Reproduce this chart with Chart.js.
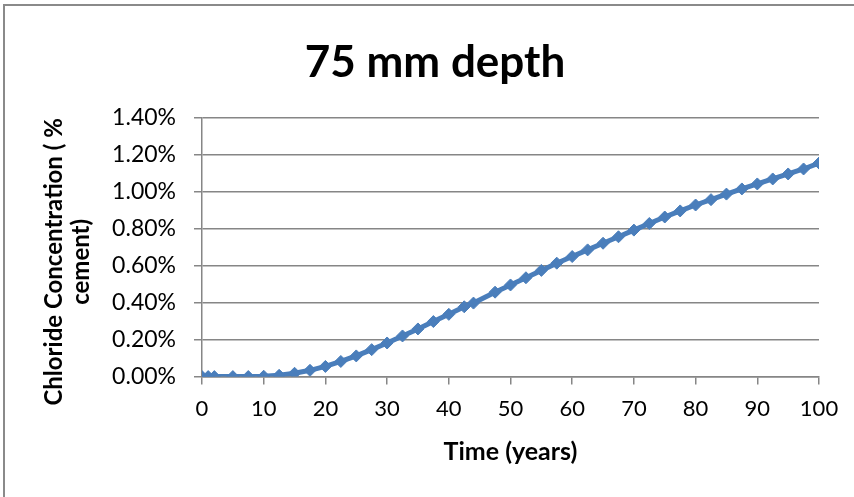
<!DOCTYPE html>
<html>
<head>
<meta charset="utf-8">
<title>75 mm depth</title>
<script src="https://cdn.jsdelivr.net/npm/chart.js@4"></script>
<style>
  html, body { margin: 0; padding: 0; overflow: hidden; background: #fff; }
  #wrap { position: relative; width: 854px; height: 497px; }
  #frame { position: absolute; left: 3px; top: 4px; width: 900px; height: 600px; border: 2px solid #8a8a8a; }
  #chart { position: absolute; left: 0; top: 0; }
</style>
</head>
<body>
<div id="wrap">
  <div id="frame"></div>
  <canvas id="chart" width="854" height="497"></canvas>
</div>
<script>
// time in years and chloride concentration in % of cement
const years = [0, 1, 2, 5, 7.5, 10, 12.5, 15, 17.5, 20, 22.5, 25, 27.5, 30, 32.5, 35, 37.5, 40,
  42.5, 44, 47.5, 50, 52.5, 55, 57.5, 60, 62.5, 65, 67.5, 70, 72.5, 75, 77.5, 80, 82.5, 85,
  87.5, 90, 92.5, 95, 97.5, 100];
const chloride = [0, 0, 0, 0, 0.0003, 0.002, 0.007, 0.018, 0.034, 0.055, 0.082, 0.112, 0.146,
  0.182, 0.220, 0.258, 0.298, 0.337, 0.378, 0.398, 0.457, 0.496, 0.535, 0.575, 0.614, 0.650,
  0.686, 0.722, 0.757, 0.793, 0.829, 0.864, 0.897, 0.929, 0.958, 0.988, 1.016, 1.043, 1.070,
  1.097, 1.124, 1.156];
const yTicks = [0, 0.2, 0.4, 0.6, 0.8, 1.0, 1.2, 1.4];
const xTicks = [0, 10, 20, 30, 40, 50, 60, 70, 80, 90, 100];

const points = years.map((t, i) => ({ x: t, y: chloride[i] }));
const gridGray = '#868686';
const blue = '#4a7ebb';

// chart title, centred on the chart frame rather than the plot area
const titlePlugin = {
  id: 'frameTitle',
  afterDraw(chart) {
    const ctx = chart.ctx;
    ctx.save();
    ctx.fillStyle = '#000';
    ctx.font = 'bold 44px Lato';
    ctx.textAlign = 'center';
    ctx.textBaseline = 'alphabetic';
    ctx.fillText('75 mm depth', 435, 77);
    ctx.restore();
  }
};

new Chart(document.getElementById('chart'), {
  type: 'scatter',
  data: {
    datasets: [{
      label: 'Chloride',
      data: points,
      showLine: true,
      borderColor: blue,
      backgroundColor: blue,
      borderWidth: 5,
      pointStyle: 'rectRot',
      pointRadius: 6,
      pointHoverRadius: 6,
      pointBorderWidth: 1,
      tension: 0
    }]
  },
  plugins: [titlePlugin],
  options: {
    responsive: false,
    animation: false,
    events: [],
    layout: { padding: { left: 0, right: 35, top: 118, bottom: 30 } },
    plugins: {
      legend: { display: false },
      tooltip: { enabled: false },
      title: { display: false }
    },
    scales: {
      x: {
        type: 'linear',
        min: 0,
        max: 100,
        afterBuildTicks: s => { s.ticks = xTicks.map(v => ({ value: v })); },
        ticks: {
          color: '#000',
          font: { family: 'Lato', size: 22 },
          padding: 11,
          maxRotation: 0
        },
        grid: { display: true, drawOnChartArea: false, color: gridGray, tickLength: 8, lineWidth: 1.5 },
        border: { color: gridGray, width: 1.5 },
        title: {
          display: true,
          text: 'Time (years)',
          color: '#000',
          font: { family: 'Lato', size: 25, weight: 'bold' },
          padding: { top: 4, bottom: 0 }
        }
      },
      y: {
        type: 'linear',
        min: 0,
        max: 1.4,
        afterBuildTicks: s => { s.ticks = yTicks.map(v => ({ value: v })); },
        afterFit: s => { s.width = 202; },
        ticks: {
          color: '#000',
          font: { family: 'Lato', size: 23 },
          padding: 18,
          callback: v => v.toFixed(2) + '%'
        },
        grid: { color: gridGray, tickLength: 8, lineWidth: 1.5 },
        border: { color: gridGray, width: 1.5 },
        title: {
          display: true,
          // trailing spaces nudge the rotated text down to sit like the original
          text: ['Chloride Concentration ( %     ', 'cement)     '],
          color: '#000',
          font: { family: 'Lato', size: 24, weight: 'bold', lineHeight: 1.12 },
          padding: { top: 41, bottom: 0 }
        }
      }
    }
  }
});
</script>
</body>
</html>
